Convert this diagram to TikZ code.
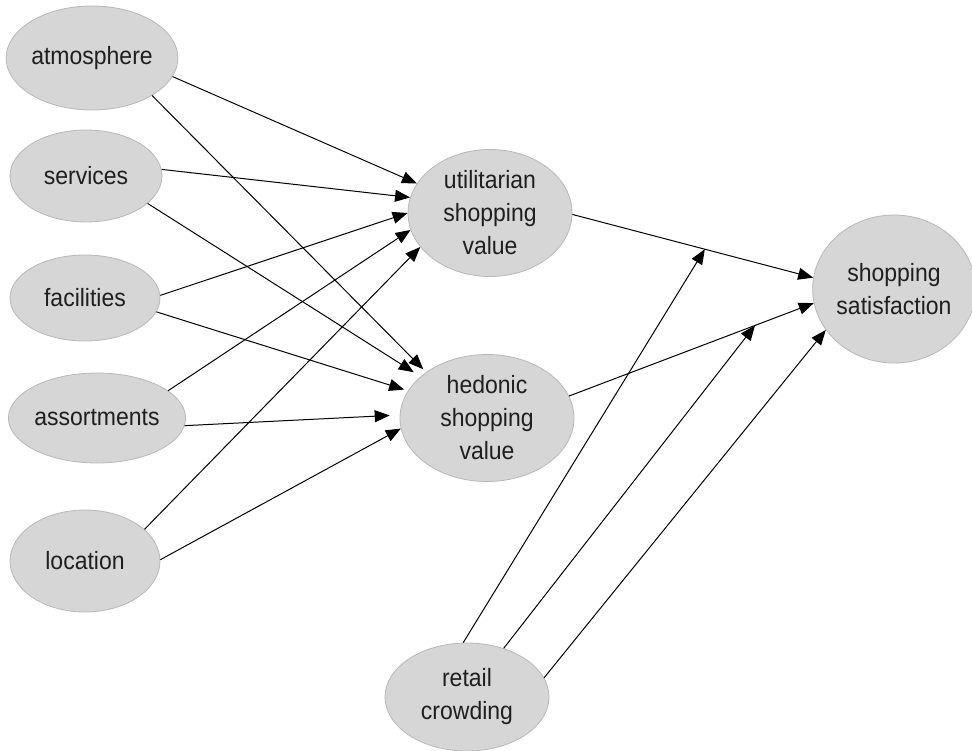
\documentclass[tikz,border=0pt]{standalone}
\usepackage{fontspec}
\setmainfont[FakeStretch=0.92]{Liberation Sans}
\usetikzlibrary{arrows.meta,shapes.geometric}
\begin{document}
\begin{tikzpicture}[x=1pt,y=-1pt,
  ell/.style={ellipse, draw=black!28, fill=black!16, line width=0.8pt, inner sep=0pt,
    align=center, font=\fontsize{25}{33}\selectfont, text=black!88},
  arr/.style={-{Triangle[length=15pt,width=12pt]}, line width=1pt}]
\useasboundingbox (0,0) rectangle (972,751);
\node[ell, minimum width=164pt, minimum height=104pt] (atm) at (92,58) {atmosphere};
\node[ell, minimum width=152pt, minimum height=92pt] (srv) at (86,176) {services};
\node[ell, minimum width=150pt, minimum height=86pt] (fac) at (85,298) {facilities};
\node[ell, minimum width=174pt, minimum height=90pt] (ast) at (97,418) {assortments};
\node[ell, minimum width=150pt, minimum height=102pt] (loc) at (85,561) {location};
\node[ell, minimum width=164pt, minimum height=127pt] (util) at (490,213) {utilitarian\\shopping\\value};
\node[ell, minimum width=174pt, minimum height=127pt] (hed) at (487,418) {hedonic\\shopping\\value};
\node[ell, minimum width=156pt, minimum height=148pt] (sat) at (894,289) {shopping\\satisfaction};
\node[ell, minimum width=164pt, minimum height=108pt] (ret) at (467,697) {retail\\crowding};

\draw[arr] (atm.-13) -- (util.158);
\draw[arr, shorten >=4pt] (atm.-32) -- (hed.143);
\draw[arr] (srv.5) -- (util.169);
\draw[arr, shorten >=8pt] (srv.-24) -- (hed.148);
\draw[arr] (fac.2) -- (util.180);
\draw[arr, shorten >=4pt] (fac.-11) -- (hed.161);
\draw[arr] (ast.21) -- (util.192);
\draw[arr, shorten >=10pt] (ast.-5) -- (hed.178);
\draw[arr] (loc.28) -- (util.206);
\draw[arr] (loc.1) -- (hed.187);

\draw[arr] (util.-1) -- coordinate[pos=0.55] (m1) (sat.172);
\draw[arr] (hed.15) -- coordinate[pos=0.76] (m2) (sat.190);
\draw[arr] (ret.94) -- (m1);
\draw[arr] (ret.53) -- (m2);
\draw[arr] (ret.14) -- (sat.211);
\end{tikzpicture}
\end{document}
